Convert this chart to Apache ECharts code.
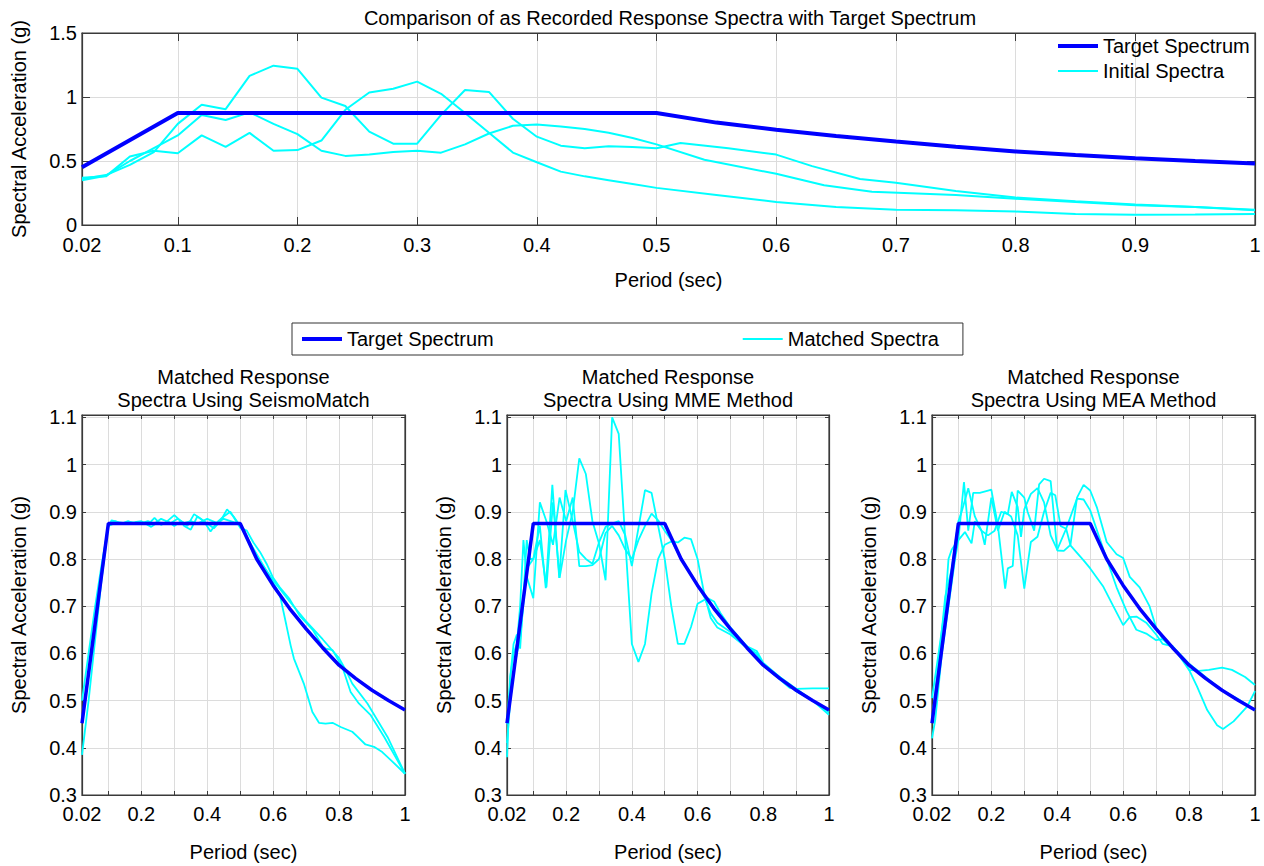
<!DOCTYPE html>
<html>
<head>
<meta charset="utf-8">
<script src="https://cdn.jsdelivr.net/npm/echarts@6/dist/echarts.min.js"></script>
<style>
  html, body { margin: 0; padding: 0; background: #fff; }
  #chart { width: 1264px; height: 866px; }
</style>
</head>
<body>
<div id="chart"></div>
<script>
// ---- tick positions and labels ----
const topXTicks = [0.02, 0.1, 0.2, 0.3, 0.4, 0.5, 0.6, 0.7, 0.8, 0.9, 1];
const topYTicks = [0, 0.5, 1, 1.5];
const subXTicks = [0.02, 0.1, 0.2, 0.3, 0.4, 0.5, 0.6, 0.7, 0.8, 0.9, 1];
const subXLabels = [0.02, 0.2, 0.4, 0.6, 0.8, 1];
const subYTicks = [0.3, 0.4, 0.5, 0.6, 0.7, 0.8, 0.9, 1, 1.1];

// ---- target design spectrum [period (s), Sa (g)] ----
const targetSpectrum = [
  [0.02, 0.452], [0.1, 0.875], [0.5, 0.875], [0.55, 0.800], [0.6, 0.744],
  [0.65, 0.695], [0.7, 0.652], [0.75, 0.612], [0.8, 0.575], [0.85, 0.547],
  [0.9, 0.522], [0.95, 0.500], [1, 0.480]
];

// ---- as-recorded spectra ----
const initial1 = [
  [0.02, 0.36], [0.04, 0.39], [0.06, 0.47], [0.08, 0.57], [0.1, 0.79], [0.12, 0.94],
  [0.14, 0.905], [0.16, 1.165], [0.18, 1.245], [0.2, 1.22], [0.22, 0.995], [0.24, 0.93],
  [0.26, 0.73], [0.28, 0.635], [0.3, 0.635], [0.32, 0.86], [0.34, 1.055], [0.36, 1.04],
  [0.38, 0.83], [0.4, 0.69], [0.42, 0.62], [0.44, 0.60], [0.46, 0.615], [0.48, 0.61],
  [0.5, 0.60], [0.52, 0.64], [0.56, 0.60], [0.6, 0.55], [0.63, 0.46], [0.67, 0.36],
  [0.7, 0.33], [0.75, 0.265], [0.8, 0.215], [0.85, 0.185], [0.9, 0.16], [0.95, 0.14], [1, 0.12]
];
const initial2 = [
  [0.02, 0.35], [0.04, 0.385], [0.06, 0.50], [0.08, 0.60], [0.1, 0.70], [0.12, 0.86],
  [0.14, 0.82], [0.16, 0.88], [0.18, 0.79], [0.2, 0.71], [0.22, 0.58], [0.24, 0.54],
  [0.26, 0.55], [0.28, 0.57], [0.3, 0.58], [0.32, 0.565], [0.34, 0.63], [0.36, 0.715],
  [0.38, 0.775], [0.4, 0.785], [0.42, 0.77], [0.44, 0.75], [0.46, 0.72], [0.48, 0.68],
  [0.5, 0.63], [0.54, 0.51], [0.6, 0.40], [0.64, 0.31], [0.68, 0.26], [0.75, 0.235],
  [0.8, 0.205], [0.85, 0.18], [0.9, 0.155], [0.95, 0.14], [1, 0.115]
];
const initial3 = [
  [0.02, 0.37], [0.04, 0.38], [0.06, 0.535], [0.08, 0.58], [0.1, 0.56], [0.12, 0.70],
  [0.14, 0.61], [0.16, 0.72], [0.18, 0.58], [0.2, 0.585], [0.22, 0.66], [0.24, 0.90],
  [0.26, 1.035], [0.28, 1.065], [0.3, 1.12], [0.32, 1.025], [0.34, 0.875], [0.36, 0.72],
  [0.38, 0.566], [0.4, 0.49], [0.42, 0.417], [0.44, 0.38], [0.46, 0.35], [0.48, 0.32],
  [0.5, 0.29], [0.55, 0.235], [0.6, 0.18], [0.65, 0.14], [0.7, 0.12], [0.75, 0.115],
  [0.8, 0.105], [0.85, 0.085], [0.9, 0.08], [0.95, 0.082], [1, 0.085]
];

// ---- spectra matched with SeismoMatch ----
const seismo1 = [
  [0.02, 0.46], [0.04, 0.56], [0.06, 0.67], [0.08, 0.78], [0.1, 0.875], [0.12, 0.88],
  [0.14, 0.875], [0.16, 0.88], [0.18, 0.875], [0.2, 0.878], [0.22, 0.873], [0.24, 0.887],
  [0.26, 0.872], [0.28, 0.88], [0.3, 0.87], [0.32, 0.88], [0.34, 0.87], [0.36, 0.895],
  [0.38, 0.885], [0.4, 0.875], [0.42, 0.865], [0.44, 0.88], [0.46, 0.905], [0.48, 0.89],
  [0.5, 0.87], [0.55, 0.81], [0.6, 0.75], [0.62, 0.725], [0.64, 0.66], [0.653, 0.617],
  [0.663, 0.589], [0.693, 0.536], [0.719, 0.476], [0.739, 0.453], [0.759, 0.451],
  [0.78, 0.453], [0.805, 0.444], [0.84, 0.434], [0.855, 0.424], [0.88, 0.407],
  [0.906, 0.402], [0.931, 0.391], [0.957, 0.374], [1, 0.345]
];
const seismo2 = [
  [0.02, 0.385], [0.04, 0.50], [0.06, 0.63], [0.08, 0.76], [0.1, 0.87], [0.11, 0.882],
  [0.13, 0.878], [0.15, 0.876], [0.18, 0.878], [0.2, 0.88], [0.23, 0.868], [0.25, 0.878],
  [0.27, 0.875], [0.3, 0.893], [0.32, 0.88], [0.33, 0.87], [0.35, 0.862], [0.37, 0.89],
  [0.39, 0.88], [0.41, 0.858], [0.43, 0.878], [0.45, 0.89], [0.47, 0.90], [0.5, 0.866],
  [0.52, 0.86], [0.54, 0.835], [0.56, 0.815], [0.58, 0.79], [0.6, 0.76], [0.62, 0.74],
  [0.65, 0.715], [0.68, 0.68], [0.7, 0.665], [0.72, 0.65], [0.75, 0.615], [0.76, 0.61],
  [0.78, 0.607], [0.81, 0.571], [0.835, 0.518], [0.86, 0.494], [0.896, 0.469],
  [0.937, 0.423], [1, 0.345]
];
const seismo3 = [
  [0.02, 0.50], [0.04, 0.60], [0.06, 0.70], [0.08, 0.79], [0.1, 0.87], [0.12, 0.876],
  [0.15, 0.875], [0.2, 0.876], [0.22, 0.88], [0.24, 0.875], [0.26, 0.885], [0.29, 0.876],
  [0.31, 0.885], [0.33, 0.876], [0.35, 0.88], [0.37, 0.875], [0.4, 0.885], [0.43, 0.876],
  [0.45, 0.885], [0.48, 0.878], [0.5, 0.875], [0.55, 0.805], [0.6, 0.755], [0.65, 0.71],
  [0.7, 0.668], [0.75, 0.63], [0.8, 0.59], [0.82, 0.565], [0.84, 0.536], [0.886, 0.494],
  [0.947, 0.423], [1, 0.345]
];

// ---- spectra matched with the MME method ----
const mme1 = [
  [0.02, 0.38], [0.03, 0.55], [0.04, 0.62], [0.05, 0.64], [0.06, 0.61], [0.07, 0.72],
  [0.08, 0.84], [0.09, 0.80], [0.1, 0.80], [0.12, 0.84], [0.14, 0.74], [0.16, 0.92],
  [0.18, 0.76], [0.2, 0.84], [0.22, 0.90], [0.24, 1.013], [0.26, 0.98], [0.28, 0.88],
  [0.3, 0.833], [0.32, 0.755], [0.34, 1.10], [0.36, 1.065], [0.38, 0.84], [0.4, 0.62],
  [0.42, 0.582], [0.44, 0.62], [0.46, 0.727], [0.48, 0.80], [0.5, 0.83], [0.52, 0.837],
  [0.54, 0.835], [0.56, 0.845], [0.58, 0.842], [0.6, 0.80], [0.62, 0.727], [0.64, 0.675],
  [0.66, 0.655], [0.7, 0.64], [0.75, 0.612], [0.78, 0.60], [0.8, 0.575], [0.85, 0.545],
  [0.88, 0.527], [0.9, 0.525], [0.95, 0.526], [1, 0.526]
];
const mme2 = [
  [0.02, 0.45], [0.03, 0.55], [0.04, 0.60], [0.05, 0.62], [0.06, 0.70], [0.07, 0.84],
  [0.08, 0.763], [0.1, 0.717], [0.12, 0.92], [0.14, 0.88], [0.16, 0.83], [0.18, 0.93],
  [0.2, 0.88], [0.22, 0.93], [0.24, 0.785], [0.26, 0.785], [0.28, 0.787], [0.3, 0.80],
  [0.32, 0.855], [0.34, 0.87], [0.36, 0.85], [0.38, 0.82], [0.4, 0.80], [0.42, 0.84],
  [0.44, 0.87], [0.46, 0.896], [0.48, 0.882], [0.5, 0.86], [0.52, 0.84], [0.55, 0.80],
  [0.6, 0.745], [0.62, 0.72], [0.64, 0.685], [0.66, 0.665], [0.7, 0.645], [0.75, 0.615],
  [0.78, 0.605], [0.8, 0.58], [0.85, 0.55], [0.9, 0.52], [0.95, 0.50], [1, 0.475]
];
const mme3 = [
  [0.02, 0.41], [0.03, 0.50], [0.04, 0.56], [0.05, 0.60], [0.06, 0.63], [0.08, 0.78],
  [0.1, 0.80], [0.12, 0.87], [0.138, 0.738], [0.158, 0.957], [0.179, 0.76], [0.198, 0.946],
  [0.22, 0.88], [0.24, 0.815], [0.26, 0.80], [0.28, 0.79], [0.3, 0.835], [0.32, 0.868],
  [0.34, 0.875], [0.36, 0.88], [0.38, 0.85], [0.4, 0.785], [0.44, 0.946], [0.46, 0.94],
  [0.48, 0.87], [0.5, 0.80], [0.52, 0.70], [0.54, 0.62], [0.56, 0.62], [0.58, 0.656],
  [0.6, 0.705], [0.63, 0.717], [0.65, 0.71], [0.67, 0.685], [0.7, 0.655], [0.75, 0.615],
  [0.78, 0.598], [0.8, 0.575], [0.85, 0.55], [0.9, 0.525], [0.95, 0.50], [1, 0.47]
];

// ---- spectra matched with the MEA method ----
const mea1 = [
  [0.02, 0.505], [0.04, 0.60], [0.06, 0.70], [0.07, 0.80], [0.08, 0.82], [0.1, 0.84],
  [0.117, 0.963], [0.13, 0.86], [0.145, 0.94], [0.165, 0.94], [0.19, 0.945], [0.2, 0.947],
  [0.22, 0.87], [0.242, 0.737], [0.25, 0.78], [0.265, 0.785], [0.28, 0.945], [0.3, 0.93],
  [0.31, 0.90], [0.33, 0.86], [0.345, 0.958], [0.36, 0.97], [0.38, 0.965], [0.4, 0.818],
  [0.42, 0.817], [0.44, 0.83], [0.46, 0.93], [0.48, 0.957], [0.5, 0.945], [0.52, 0.91],
  [0.55, 0.836], [0.58, 0.81], [0.6, 0.802], [0.62, 0.762], [0.65, 0.74], [0.68, 0.70],
  [0.7, 0.655], [0.72, 0.63], [0.75, 0.615], [0.8, 0.578], [0.85, 0.55], [0.9, 0.522],
  [0.95, 0.503], [1, 0.48]
];
const mea2 = [
  [0.02, 0.42], [0.03, 0.46], [0.05, 0.60], [0.07, 0.70], [0.09, 0.80], [0.1, 0.84],
  [0.12, 0.857], [0.14, 0.833], [0.15, 0.88], [0.17, 0.86], [0.18, 0.83], [0.2, 0.93],
  [0.22, 0.86], [0.24, 0.90], [0.26, 0.89], [0.28, 0.85], [0.3, 0.737], [0.32, 0.836],
  [0.34, 0.847], [0.36, 0.90], [0.38, 0.94], [0.394, 0.935], [0.41, 0.87], [0.427, 0.864],
  [0.44, 0.829], [0.48, 0.797], [0.5, 0.78], [0.54, 0.741], [0.57, 0.70], [0.6, 0.66],
  [0.62, 0.677], [0.64, 0.678], [0.67, 0.665], [0.7, 0.64], [0.72, 0.62], [0.75, 0.615],
  [0.78, 0.585], [0.8, 0.565], [0.83, 0.563], [0.86, 0.565], [0.9, 0.57], [0.93, 0.565],
  [0.97, 0.55], [1, 0.533]
];
const mea3 = [
  [0.02, 0.46], [0.04, 0.58], [0.06, 0.72], [0.08, 0.78], [0.1, 0.88], [0.11, 0.90],
  [0.13, 0.95], [0.15, 0.89], [0.17, 0.86], [0.19, 0.85], [0.21, 0.86], [0.23, 0.90],
  [0.25, 0.895], [0.262, 0.942], [0.28, 0.91], [0.29, 0.847], [0.3, 0.905], [0.32, 0.938],
  [0.34, 0.95], [0.36, 0.92], [0.38, 0.85], [0.4, 0.82], [0.427, 0.864], [0.46, 0.928],
  [0.48, 0.926], [0.5, 0.903], [0.545, 0.81], [0.58, 0.74], [0.61, 0.69], [0.64, 0.65],
  [0.67, 0.642], [0.7, 0.628], [0.72, 0.63], [0.75, 0.61], [0.78, 0.59], [0.8, 0.565],
  [0.824, 0.53], [0.855, 0.48], [0.885, 0.448], [0.903, 0.44], [0.935, 0.456],
  [0.976, 0.487], [1, 0.52]
];

// ---- panel titles ----
const mainTitle = 'Comparison of as Recorded Response Spectra with Target Spectrum';
const panelTitles = [
  ['Matched Response', 'Spectra Using SeismoMatch'],
  ['Matched Response', 'Spectra Using MME Method'],
  ['Matched Response', 'Spectra Using MEA Method']
];

// ---- styling ----
const FONT = '"Liberation Sans", Arial, Helvetica, sans-serif';
const FS = 20;
const FRAME = '#3a3a3a';
const GRIDLINE = '#dcdcdc';
const BLUE = '#0000ff';
const CYAN = '#00ffff';

const fmt = v => String(parseFloat(Number(v).toFixed(3)));

const grids = [
  { left: 82, top: 33, width: 1173, height: 192 },
  { left: 82, top: 415, width: 323, height: 380 },
  { left: 507, top: 415, width: 322, height: 380 },
  { left: 932, top: 415, width: 323, height: 380 }
].map(g => Object.assign({ show: true, borderColor: FRAME, borderWidth: 1.2, backgroundColor: 'transparent' }, g));

function xAxes(gi, ticks, labels, tickLen, labelMargin, nameGap) {
  const base = { type: 'value', gridIndex: gi, min: 0.02, max: 1, splitNumber: 10 };
  return [
    Object.assign({}, base, {
      position: 'bottom',
      name: 'Period (sec)', nameLocation: 'middle', nameGap: nameGap,
      nameTextStyle: { fontSize: FS, color: '#000', fontFamily: FONT },
      axisLine: { show: true, onZero: false, lineStyle: { color: FRAME, width: 1.2 } },
      axisTick: { show: true, inside: true, length: tickLen, customValues: ticks, lineStyle: { color: FRAME, width: 1 } },
      axisLabel: { show: true, customValues: labels, margin: labelMargin, lineHeight: 16, formatter: fmt, color: '#000', fontSize: FS, fontFamily: FONT, showMinLabel: true, showMaxLabel: true, hideOverlap: false },
      splitLine: { show: true, lineStyle: { color: GRIDLINE, width: 1 } }
    }),
    Object.assign({}, base, {
      position: 'top',
      axisLine: { show: true, onZero: false, lineStyle: { color: FRAME, width: 1.2 } },
      axisTick: { show: true, inside: true, length: tickLen, customValues: ticks, lineStyle: { color: FRAME, width: 1 } },
      axisLabel: { show: false },
      splitLine: { show: false }
    })
  ];
}

function yAxes(gi, min, max, ticks, tickLen, labelMargin) {
  const base = { type: 'value', gridIndex: gi, min: min, max: max, splitNumber: ticks.length - 1 };
  return [
    Object.assign({}, base, {
      position: 'left',
      name: 'Spectral Acceleration (g)', nameLocation: 'middle', nameGap: 53,
      nameTextStyle: { fontSize: FS, color: '#000', fontFamily: FONT },
      axisLine: { show: true, onZero: false, lineStyle: { color: FRAME, width: 1.2 } },
      axisTick: { show: true, inside: true, length: tickLen, customValues: ticks, lineStyle: { color: FRAME, width: 1 } },
      axisLabel: { show: true, customValues: ticks, margin: labelMargin, lineHeight: 16, formatter: fmt, color: '#000', fontSize: FS, fontFamily: FONT, showMinLabel: true, showMaxLabel: true, hideOverlap: false },
      splitLine: { show: true, lineStyle: { color: GRIDLINE, width: 1 } }
    }),
    Object.assign({}, base, {
      position: 'right',
      axisLine: { show: true, onZero: false, lineStyle: { color: FRAME, width: 1.2 } },
      axisTick: { show: true, inside: true, length: tickLen, customValues: ticks, lineStyle: { color: FRAME, width: 1 } },
      axisLabel: { show: false },
      splitLine: { show: false }
    })
  ];
}

const xAxis = [].concat(
  xAxes(0, topXTicks, topXTicks, 8, 12, 45),
  xAxes(1, subXTicks, subXLabels, 4, 11, 47),
  xAxes(2, subXTicks, subXLabels, 4, 11, 47),
  xAxes(3, subXTicks, subXLabels, 4, 11, 47)
);
const yAxis = [].concat(
  yAxes(0, 0, 1.5, topYTicks, 8, 5),
  yAxes(1, 0.3, 1.105, subYTicks, 4, 5),
  yAxes(2, 0.3, 1.105, subYTicks, 4, 5),
  yAxes(3, 0.3, 1.105, subYTicks, 4, 5)
);

function line(name, data, gi, color, width) {
  return {
    type: 'line', name: name, data: data,
    xAxisIndex: gi * 2, yAxisIndex: gi * 2,
    symbol: 'none', showSymbol: false, smooth: false,
    lineStyle: { color: color, width: width },
    itemStyle: { color: color },
    emphasis: { disabled: true },
    silent: true
  };
}

const series = [
  line('Initial Spectra', initial1, 0, CYAN, 2),
  line('Initial Spectra', initial2, 0, CYAN, 2),
  line('Initial Spectra', initial3, 0, CYAN, 2),
  line('Target Spectrum', targetSpectrum, 0, BLUE, 4),

  line('Matched Spectra', seismo1, 1, CYAN, 1.8),
  line('Matched Spectra', seismo2, 1, CYAN, 1.8),
  line('Matched Spectra', seismo3, 1, CYAN, 1.8),
  line('Target Spectrum', targetSpectrum, 1, BLUE, 3.5),

  line('Matched Spectra', mme1, 2, CYAN, 1.8),
  line('Matched Spectra', mme2, 2, CYAN, 1.8),
  line('Matched Spectra', mme3, 2, CYAN, 1.8),
  line('Target Spectrum', targetSpectrum, 2, BLUE, 3.5),

  line('Matched Spectra', mea1, 3, CYAN, 1.8),
  line('Matched Spectra', mea2, 3, CYAN, 1.8),
  line('Matched Spectra', mea3, 3, CYAN, 1.8),
  line('Target Spectrum', targetSpectrum, 3, BLUE, 3.5)
];

// legend keys: plain stroke swatches, thick for the target, thin for the records
const thickKey = 'path://M0,0 L40,0 L40,4 L0,4 Z';
const thinKey = 'path://M0,0 L40,0 L40,2 L0,2 Z';
const legendText = { fontSize: FS, color: '#000', fontFamily: FONT, lineHeight: 20 };
const legend = [
  {
    left: 1058, top: 36, orient: 'vertical', padding: 0, itemGap: 5,
    itemWidth: 40, itemHeight: 14, selectedMode: false, symbolKeepAspect: true,
    data: [
      { name: 'Target Spectrum', icon: thickKey },
      { name: 'Initial Spectra', icon: thinKey }
    ],
    textStyle: legendText
  },
  {
    left: 292, top: 323, orient: 'horizontal', padding: [6, 24, 6, 10], itemGap: 249,
    itemWidth: 40, itemHeight: 14, selectedMode: false, symbolKeepAspect: true,
    borderColor: '#333', borderWidth: 1,
    data: [
      { name: 'Target Spectrum', icon: thickKey },
      { name: 'Matched Spectra', icon: thinKey }
    ],
    textStyle: legendText
  }
];

function label(text, x, y) {
  return {
    type: 'text', x: x, y: y, silent: true,
    style: { text: text, fill: '#000', font: FS + 'px ' + FONT, textAlign: 'center', textVerticalAlign: 'middle' }
  };
}
const centers = [243.5, 668, 1093.5];
const graphic = [label(mainTitle, 670, 18)];
panelTitles.forEach((t, i) => {
  graphic.push(label(t[0], centers[i], 377));
  graphic.push(label(t[1], centers[i], 400));
});

const chart = echarts.init(document.getElementById('chart'), null, { renderer: 'svg', width: 1264, height: 866 });
chart.setOption({
  backgroundColor: '#ffffff',
  animation: false,
  textStyle: { fontFamily: FONT },
  grid: grids,
  xAxis: xAxis,
  yAxis: yAxis,
  legend: legend,
  graphic: graphic,
  series: series
});
</script>
</body>
</html>
